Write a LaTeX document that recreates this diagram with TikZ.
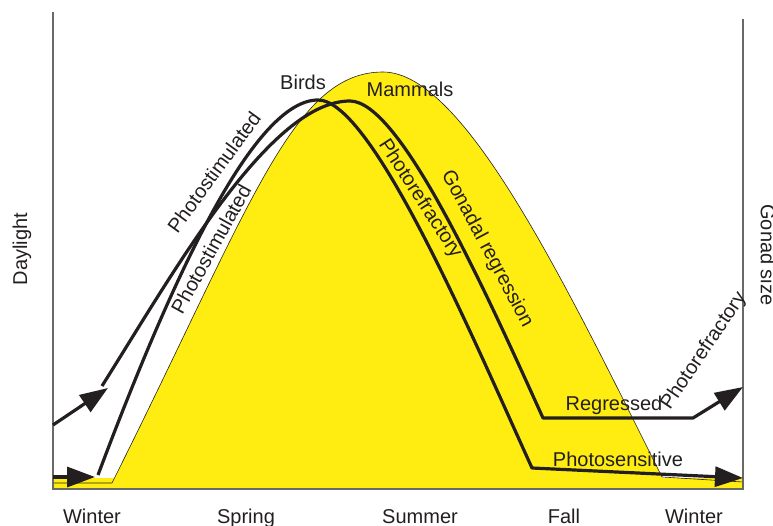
\documentclass[tikz,border=0pt]{standalone}
\usepackage{fontspec}
\setmainfont{Liberation Sans}
\usetikzlibrary{arrows.meta}
\definecolor{sunyellow}{RGB}{255,237,18}
\definecolor{ink}{RGB}{35,31,32}
\definecolor{axisgray}{RGB}{105,105,105}
\tikzset{
  lbl/.style={text=ink, inner sep=0pt, font=\fontsize{20}{24}\selectfont},
  gonad/.style={draw=ink, line width=3.2pt, line join=round},
  axisline/.style={draw=axisgray, line width=1.4pt},
  bigarrow/.style={gonad, -{Triangle[length=28pt,width=20pt]}},
}
\begin{document}
\begin{tikzpicture}[x=1pt,y=-1pt]
\useasboundingbox (0,0) rectangle (773,526);

% daylight curve
\coordinate (dawn) at (112,483);
\coordinate (solstice) at (383,72);
\coordinate (dusk) at (662,477);
\fill[sunyellow] (53,478) rectangle (743,489);
\fill[sunyellow] (dawn) .. controls (252,203) and (293,72) .. (solstice)
  .. controls (463,72) and (562,277) .. (dusk) -- (662,489) -- (112,489) -- cycle;
\draw[ink, line width=0.6pt] (53,483) -- (dawn) .. controls (252,203) and (293,72) .. (solstice)
  .. controls (463,72) and (562,277) .. (dusk) -- (743,482);

% axes
\draw[axisline] (53,12) -- (53,489) -- (743,489) -- (743,19);

% gonad curves
\coordinate (birdstart) at (98,475);
\coordinate (birdpeak) at (318,100);
\coordinate (birdlow) at (532,468);
\coordinate (birdend) at (743,478);
\coordinate (mamstart) at (102,386);
\coordinate (mampeak) at (350,101);
\coordinate (mamlow) at (543,418);
\coordinate (mamflat) at (693,418);
\coordinate (mamend) at (743,387);

\draw[bigarrow] (53,477) -- (95,477);
\draw[bigarrow] (53,425) -- (108,388);
\draw[bigarrow] (birdstart) .. controls (175,270) and (255,100) .. (birdpeak)
  .. controls (372,100) and (472,336) .. (birdlow) -- (birdend);
\draw[bigarrow] (mamstart) .. controls (175,270) and (270,101) .. (mampeak)
  .. controls (400,101) and (485,290) .. (mamlow) -- (mamflat) -- (mamend);

% labels
\node[lbl, rotate=90] (daylight) at (22,249) {Daylight};
\node[lbl, rotate=-90] (gonadsize) at (768,255) {Gonad size};
\node[lbl, anchor=base] (winterA) at (92,523) {Winter};
\node[lbl, anchor=base] (spring) at (246,523) {Spring};
\node[lbl, anchor=base] (summer) at (420,523) {Summer};
\node[lbl, anchor=base] (fall) at (564,523) {Fall};
\node[lbl, anchor=base] (winterB) at (694,523) {Winter};
\node[lbl, anchor=base] (birds) at (303,90) {Birds};
\node[lbl, anchor=base] (mammals) at (410,97) {Mammals};
\node[lbl, anchor=base] (regressed) at (614,410) {Regressed};
\node[lbl, anchor=base] (sensitive) at (618,466) {Photosensitive};
\node[lbl, rotate=54] (stimbirds) at (214,172) {Photostimulated};
\node[lbl, rotate=61] (stimmam) at (211,249) {Photostimulated};
\node[lbl, rotate=-57] (refbirds) at (420,199) {Photorefractory};
\node[lbl, rotate=-62] (regression) at (487,249) {Gonadal regression};
\node[lbl, rotate=56] (refmam) at (704,351) {Photorefractory};
\end{tikzpicture}
\end{document}
